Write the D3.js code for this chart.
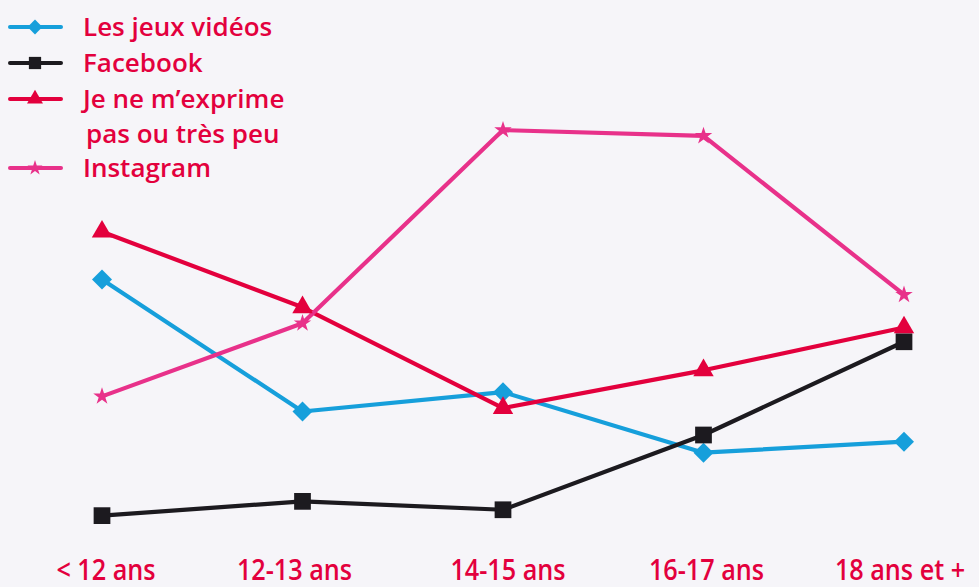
<!DOCTYPE html>
<html><head><meta charset="utf-8">
<script src="https://cdn.jsdelivr.net/npm/d3@7"></script>
<style>
html,body{margin:0;padding:0;background:#f6f5f9;}
svg{display:block;}
</style></head>
<body>
<svg id="c" width="979" height="587"></svg>
<script>
const categories = ["< 12 ans", "12-13 ans", "14-15 ans", "16-17 ans", "18 ans et +"];
const jeuxVideos = [31.0, 15.3, 17.6, 10.4, 11.7];
const facebook = [2.9, 4.6, 3.6, 12.5, 23.6];
const jeNeMExprime = [36.7, 27.7, 15.7, 20.2, 25.3];
const instagram = [17.1, 25.8, 48.8, 48.1, 29.2];
const seriesNames = ["Les jeux vidéos", "Facebook", "Je ne m\u2019exprime|pas ou très peu", "Instagram"];

const series = [
  {name: seriesNames[0], values: jeuxVideos, color: "#169fdb", sym: "diamond"},
  {name: seriesNames[1], values: facebook, color: "#1c1a1f", sym: "square"},
  {name: seriesNames[2], values: jeNeMExprime, color: "#e3003d", sym: "triangle"},
  {name: seriesNames[3], values: instagram, color: "#e8318a", sym: "star"}
];

const svg = d3.select("#c");
const x = d3.scalePoint().domain(categories).range([102, 904]);
const y = d3.scaleLinear().domain([0, 50]).range([540, 120]);

function symPath(sym, big) {
  if (sym === "diamond") return d3.symbol(d3.symbolSquare, big ? 200 : 110)();
  if (sym === "square") return d3.symbol(d3.symbolSquare, big ? 280 : 150)();
  if (sym === "triangle") return d3.symbol(d3.symbolTriangle, big ? 180 : 110)();
  return d3.symbol(d3.symbolStar, big ? 95 : 70)();
}
function symRot(sym) { return sym === "diamond" ? " rotate(45)" : ""; }

const line = d3.line().x((d, i) => x(categories[i])).y(d => y(d));

const g = svg.append("g");
series.forEach(s => {
  g.append("path").attr("d", line(s.values)).attr("fill", "none")
    .attr("stroke", s.color).attr("stroke-width", 4.2).attr("stroke-linejoin", "round");
});
series.forEach(s => {
  g.selectAll(null).data(s.values).enter().append("path")
    .attr("d", symPath(s.sym, true))
    .attr("transform", (d, i) => `translate(${x(categories[i])},${y(d)})${symRot(s.sym)}`)
    .attr("fill", s.color);
});

// x labels
const labelOffsets = [4, -8, 5, 3, -4];
const xl = svg.append("g").selectAll("text").data(categories).enter().append("text")
  .attr("x", (d, i) => x(d) + labelOffsets[i]).attr("y", 580)
  .attr("text-anchor", "middle")
  .attr("font-family", "'Open Sans', sans-serif")
  .attr("font-weight", 600).attr("font-size", 28)
  .attr("fill", "#e3003d")
  .text(d => d);
xl.each(function() {
  const w = this.getComputedTextLength();
  d3.select(this).attr("textLength", w * 0.9).attr("lengthAdjust", "spacingAndGlyphs");
});

// legend
const legendY = [27, 63, 99, 168];
const leg = svg.append("g");
series.forEach((s, i) => {
  const ly = legendY[i];
  leg.append("line").attr("x1", 10).attr("x2", 61).attr("y1", ly).attr("y2", ly)
    .attr("stroke", s.color).attr("stroke-width", 4).attr("stroke-linecap", "round");
  leg.append("path").attr("d", symPath(s.sym, false))
    .attr("transform", `translate(35,${ly})${symRot(s.sym)}`).attr("fill", s.color);
  const lines = s.name.split("|");
  lines.forEach((t, j) => {
    leg.append("text").attr("x", j === 0 ? 83 : 86).attr("y", ly + 9 + j * 35)
      .attr("font-family", "'Open Sans', sans-serif").attr("font-weight", 600)
      .attr("font-size", 26).attr("fill", "#e3003d").text(t);
  });
});
</script>
</body></html>
